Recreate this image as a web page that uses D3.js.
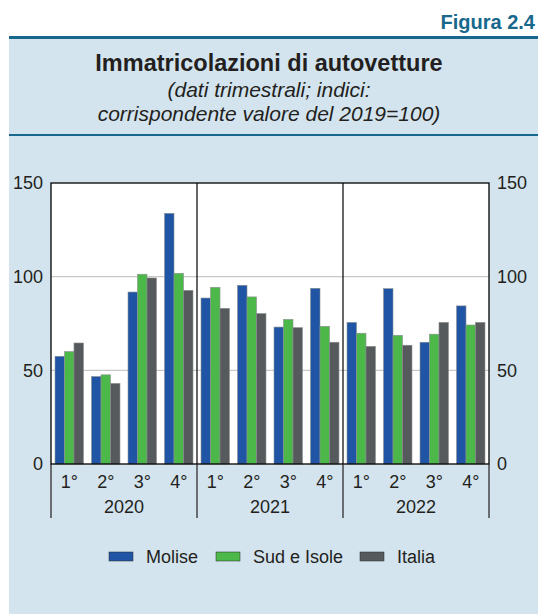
<!DOCTYPE html>
<html>
<head>
<meta charset="utf-8">
<script src="https://cdn.jsdelivr.net/npm/d3@7"></script>
<style>
  body { margin: 0; background: #fff; }
  svg { display: block; font-family: "Liberation Sans", Arial, sans-serif; }
</style>
</head>
<body>
<div id="chart"></div>
<script>
var width = 538, height = 614;

var years = ["2020", "2021", "2022"];
var quarters = ["1°", "2°", "3°", "4°"];
var seriesNames = ["Molise", "Sud e Isole", "Italia"];
var seriesColors = ["#1f55a4", "#4db84a", "#565a5c"];

// one value per quarter, 2020Q1 .. 2022Q4
var molise = [57.5, 46.7, 91.8, 133.8, 88.6, 95.4, 73.1, 93.8, 75.6, 93.6, 65.0, 84.4];
var sudIsole = [60.0, 47.6, 101.3, 101.8, 94.3, 89.2, 77.2, 73.5, 69.8, 68.7, 69.3, 74.2];
var italia = [64.6, 43.0, 99.3, 92.7, 83.1, 80.3, 72.8, 65.0, 62.8, 63.4, 75.6, 75.6];

var yTicks = [0, 50, 100, 150];

var margin = { left: 51, top: 183 };
var plotW = 489 - 51, plotH = 464 - 183;
var textColor = "#231f20";

var svg = d3.select("#chart").append("svg")
    .attr("width", width)
    .attr("height", height);

// header and panel
svg.append("text")
    .attr("x", 535).attr("y", 29)
    .attr("text-anchor", "end")
    .attr("font-size", 20).attr("font-weight", "bold")
    .attr("fill", "#17688c")
    .text("Figura 2.4");

svg.append("rect")
    .attr("x", 9).attr("y", 37)
    .attr("width", width - 9).attr("height", height - 37)
    .attr("fill", "#d3e4ee");

svg.append("rect")
    .attr("x", 9).attr("y", 36)
    .attr("width", width - 9).attr("height", 3)
    .attr("fill", "#17688c");

svg.append("rect")
    .attr("x", 9).attr("y", 134)
    .attr("width", width - 9).attr("height", 2)
    .attr("fill", "#17688c");

svg.append("text")
    .attr("x", 269).attr("y", 71)
    .attr("text-anchor", "middle")
    .attr("font-size", 23.5).attr("font-weight", "bold")
    .attr("fill", textColor)
    .text("Immatricolazioni di autovetture");

svg.selectAll("text.sub")
    .data(["(dati trimestrali; indici:", "corrispondente valore del 2019=100)"])
    .enter().append("text")
    .attr("class", "sub")
    .attr("x", 269)
    .attr("y", function(d, i) { return 97 + i * 24; })
    .attr("text-anchor", "middle")
    .attr("font-size", 21).attr("font-style", "italic")
    .attr("fill", textColor)
    .text(function(d) { return d; });

// scales
var periods = [];
years.forEach(function(y) {
  quarters.forEach(function(q) { periods.push(y + "-" + q); });
});

var x = d3.scaleBand()
    .domain(periods)
    .range([0, plotW])
    .paddingInner(0.22)
    .paddingOuter(0.11);

var xs = d3.scaleBand()
    .domain(seriesNames)
    .range([0, x.bandwidth()]);

var y = d3.scaleLinear()
    .domain([0, 150])
    .range([plotH, 0]);

var g = svg.append("g")
    .attr("transform", "translate(" + margin.left + "," + margin.top + ")");

g.append("rect")
    .attr("width", plotW).attr("height", plotH)
    .attr("fill", "#fff");

g.selectAll("line.grid")
    .data([50, 100])
    .enter().append("line")
    .attr("class", "grid")
    .attr("x1", 0).attr("x2", plotW)
    .attr("y1", function(d) { return y(d); })
    .attr("y2", function(d) { return y(d); })
    .attr("stroke", "#c8c8c8").attr("stroke-width", 1.2);

var seriesData = [molise, sudIsole, italia];
seriesData.forEach(function(vals, s) {
  g.selectAll("rect.s" + s)
    .data(vals)
    .enter().append("rect")
      .attr("class", "s" + s)
      .attr("x", function(d, i) { return x(periods[i]) + xs(seriesNames[s]); })
      .attr("y", function(d) { return y(d); })
      .attr("width", xs.bandwidth())
      .attr("height", function(d) { return plotH - y(d); })
      .attr("fill", seriesColors[s])
      .attr("stroke", "#8a8f91")
      .attr("stroke-width", 0.6);
});

// year separators inside plot
var yearW = plotW / years.length;
g.selectAll("line.sep")
    .data([1, 2])
    .enter().append("line")
    .attr("class", "sep")
    .attr("x1", function(d) { return d * yearW; })
    .attr("x2", function(d) { return d * yearW; })
    .attr("y1", 0).attr("y2", plotH)
    .attr("stroke", "#000").attr("stroke-width", 1.2);

g.append("rect")
    .attr("width", plotW).attr("height", plotH)
    .attr("fill", "none")
    .attr("stroke", "#000").attr("stroke-width", 1.3);

// ticks below axis
g.selectAll("line.xt")
    .data([0, 1, 2, 3])
    .enter().append("line")
    .attr("class", "xt")
    .attr("x1", function(d) { return d * yearW; })
    .attr("x2", function(d) { return d * yearW; })
    .attr("y1", plotH).attr("y2", plotH + 54)
    .attr("stroke", textColor).attr("stroke-width", 1.2);

g.selectAll("text.q")
    .data(periods)
    .enter().append("text")
    .attr("class", "q")
    .attr("x", function(d) { return x(d) + x.bandwidth() / 2; })
    .attr("y", plotH + 24)
    .attr("text-anchor", "middle")
    .attr("font-size", 18)
    .attr("fill", textColor)
    .text(function(d) { return d.split("-")[1]; });

g.selectAll("text.yr")
    .data(years)
    .enter().append("text")
    .attr("class", "yr")
    .attr("x", function(d, i) { return (i + 0.5) * yearW; })
    .attr("y", plotH + 49)
    .attr("text-anchor", "middle")
    .attr("font-size", 18)
    .attr("fill", textColor)
    .text(function(d) { return d; });

// y axes on both sides
var leftAxis = d3.axisLeft(y).tickValues(yTicks).tickSize(0).tickPadding(8);
var rightAxis = d3.axisRight(y).tickValues(yTicks).tickSize(0).tickPadding(8);

var la = g.append("g").call(leftAxis);
var ra = g.append("g").attr("transform", "translate(" + plotW + ",0)").call(rightAxis);
[la, ra].forEach(function(a) {
  a.select(".domain").remove();
  a.selectAll("text")
    .attr("font-size", 18)
    .attr("font-family", "Liberation Sans, Arial, sans-serif")
    .attr("fill", textColor);
});

// legend
var legendX = [109, 216, 360];
var legend = svg.selectAll("g.legend")
    .data(seriesNames)
    .enter().append("g")
    .attr("class", "legend")
    .attr("transform", function(d, i) { return "translate(" + legendX[i] + ",557)"; });

legend.append("rect")
    .attr("x", 0).attr("y", -5)
    .attr("width", 24).attr("height", 9)
    .attr("fill", function(d, i) { return seriesColors[i]; })
    .attr("stroke", "#2a2a2a").attr("stroke-width", 0.5);

legend.append("text")
    .attr("x", 37).attr("y", 6)
    .attr("font-size", 18)
    .attr("fill", textColor)
    .text(function(d) { return d; });
</script>
</body>
</html>
